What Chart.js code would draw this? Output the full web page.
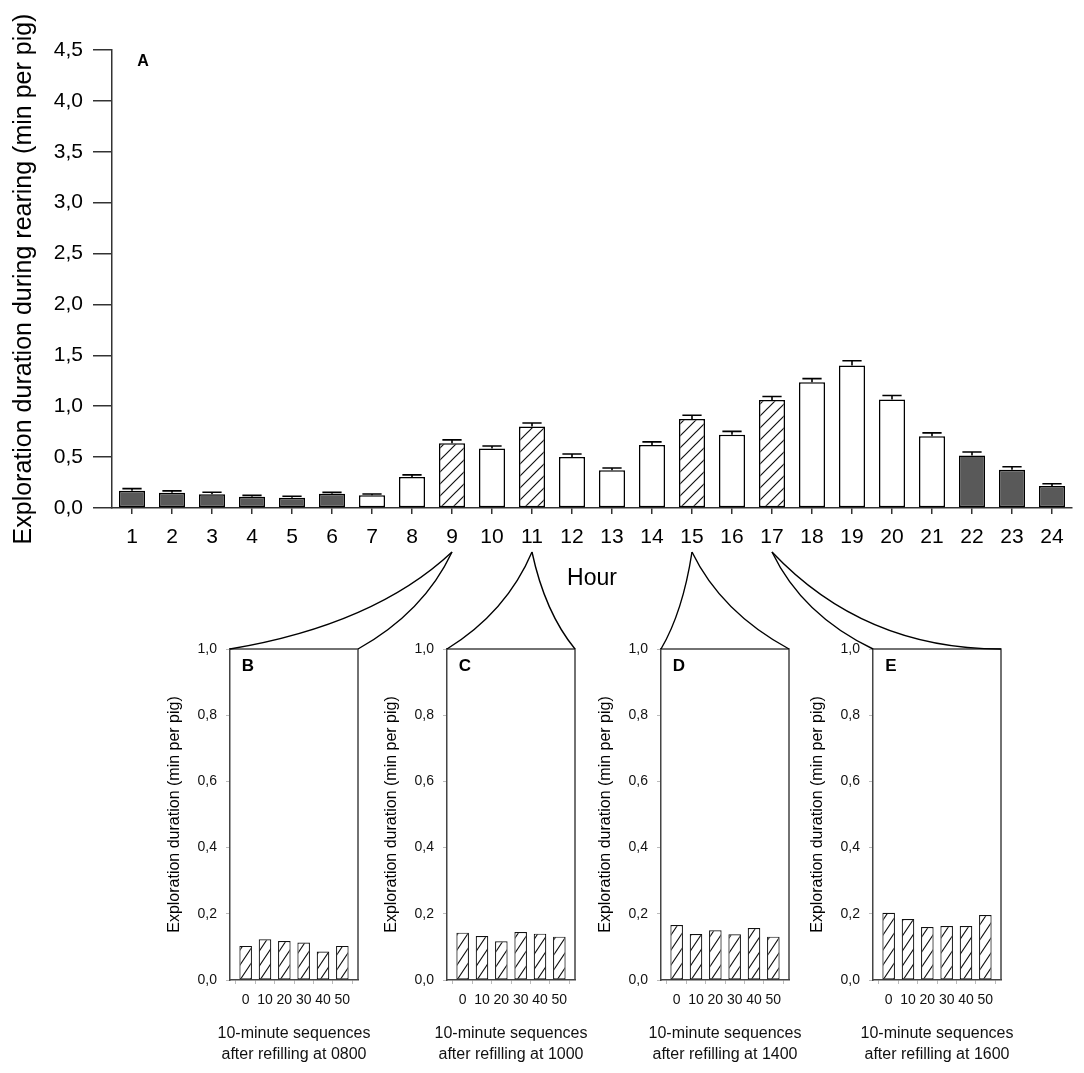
<!DOCTYPE html>
<html>
<head>
<meta charset="utf-8">
<script src="https://cdn.jsdelivr.net/npm/chart.js@4.4.1/dist/chart.umd.min.js"></script>
<style>
    body { margin: 0; background: #fff; }
    #page { position: relative; width: 1084px; height: 1073px; overflow: hidden; }
    #page canvas { position: absolute; }
    #links { pointer-events: none; }
</style>
</head>
<body>
<div id="page">
    <canvas id="mainChart" width="1084" height="600" style="left:0;top:0"></canvas>
    <canvas id="panelB" width="220" height="450" style="left:150px;top:620px"></canvas>
    <canvas id="panelC" width="220" height="450" style="left:367px;top:620px"></canvas>
    <canvas id="panelD" width="220" height="450" style="left:581px;top:620px"></canvas>
    <canvas id="panelE" width="220" height="450" style="left:793px;top:620px"></canvas>
    <canvas id="links" width="1084" height="1073" style="left:0;top:0"></canvas>
</div>
<script>
// Hourly data (panel A)
const hours = ['1','2','3','4','5','6','7','8','9','10','11','12','13','14','15','16','17','18','19','20','21','22','23','24'];
const hourMeans = [0.17, 0.15, 0.135, 0.11, 0.10, 0.14, 0.125, 0.305, 0.635, 0.585, 0.80, 0.50,
                   0.37, 0.62, 0.875, 0.72, 1.06, 1.235, 1.40, 1.065, 0.705, 0.515, 0.375, 0.215];
const hourErrors = [0.02, 0.018, 0.02, 0.014, 0.015, 0.014, 0.012, 0.02, 0.034, 0.024, 0.035, 0.03,
                    0.023, 0.03, 0.036, 0.033, 0.036, 0.036, 0.047, 0.04, 0.033, 0.035, 0.03, 0.023];
// 'night' = dark, 'day' = white, 'refill' = hatched
const hourShade = ['night','night','night','night','night','night','day','day','refill','day','refill','day',
                   'day','day','refill','day','refill','day','day','day','day','night','night','night'];

// 10-minute sequences after refilling (panels B-E)
const sequenceLabels = ['0', '10', '20', '30', '40', '50'];
const refillB = [0.103, 0.123, 0.118, 0.113, 0.086, 0.103];
const refillC = [0.143, 0.133, 0.117, 0.145, 0.140, 0.131];
const refillD = [0.166, 0.139, 0.150, 0.138, 0.157, 0.131];
const refillE = [0.203, 0.184, 0.160, 0.163, 0.163, 0.196];
const refillTimes = ['0800', '1000', '1400', '1600'];
const zoomHours = [9, 11, 15, 17];

const FONT = '"Liberation Sans", Arial, sans-serif';
Chart.defaults.font.family = FONT;
Chart.defaults.color = '#000';
Chart.defaults.animation = false;

// Diagonal hatch fill
function makeHatch(w, h, lw) {
    const c = document.createElement('canvas');
    c.width = w;
    c.height = h;
    const g = c.getContext('2d');
    g.fillStyle = '#fff';
    g.fillRect(0, 0, w, h);
    g.strokeStyle = '#111';
    g.lineWidth = lw;
    g.beginPath();
    for (let k = -1; k <= 1; k++) {
        g.moveTo(k * w - w * 0.5, h * 1.5);
        g.lineTo(k * w + w * 1.5, -h * 0.5);
    }
    g.stroke();
    return g.createPattern(c, 'repeat');
}

function commaFmt(v) {
    return Number(v).toFixed(1).replace('.', ',');
}

// Error bars (upward only)
const errorBars = {
    id: 'errorBars',
    afterDatasetsDraw(chart) {
        const { ctx, scales: { y } } = chart;
        const meta = chart.getDatasetMeta(0);
        ctx.save();
        ctx.strokeStyle = '#000';
        ctx.lineWidth = 1.6;
        meta.data.forEach((bar, i) => {
            const top = y.getPixelForValue(hourMeans[i] + hourErrors[i]);
            const half = bar.width * 0.37;
            ctx.beginPath();
            ctx.moveTo(bar.x, bar.y);
            ctx.lineTo(bar.x, top);
            ctx.moveTo(bar.x - half, top);
            ctx.lineTo(bar.x + half, top);
            ctx.stroke();
        });
        ctx.restore();
    }
};

// Panel letter (A, B, C...)
const panelLetter = {
    id: 'panelLetter',
    afterDraw(chart, args, opts) {
        if (!opts.text) return;
        const { ctx, chartArea } = chart;
        ctx.save();
        ctx.font = 'bold ' + opts.size + 'px ' + FONT;
        ctx.fillStyle = '#000';
        ctx.textAlign = 'center';
        ctx.textBaseline = 'middle';
        ctx.fillText(opts.text, chartArea.left + opts.dx, chartArea.top + opts.dy);
        ctx.restore();
    }
};

// Top and right frame lines plus the two-line caption of the small panels
const panelFrame = {
    id: 'panelFrame',
    afterDraw(chart, args, opts) {
        if (!opts.caption) return;
        const { ctx, chartArea: a } = chart;
        ctx.save();
        ctx.strokeStyle = '#444';
        ctx.lineWidth = 1.5;
        ctx.beginPath();
        ctx.moveTo(a.left, a.top);
        ctx.lineTo(a.right, a.top);
        ctx.lineTo(a.right, a.bottom);
        ctx.stroke();

        ctx.font = '16px ' + FONT;
        ctx.fillStyle = '#111';
        ctx.textAlign = 'center';
        ctx.textBaseline = 'middle';
        const cx = (a.left + a.right) / 2;
        opts.caption.forEach((line, i) => {
            ctx.fillText(line, cx, a.bottom + 54 + i * 21);
        });
        ctx.restore();
    }
};

const mainHatch = makeHatch(12, 12, 1.2);
const shadeColors = { night: '#595959', day: '#ffffff', refill: mainHatch };

const mainChart = new Chart(document.getElementById('mainChart'), {
    type: 'bar',
    data: {
        labels: hours,
        datasets: [{
            data: hourMeans,
            backgroundColor: hourShade.map(s => shadeColors[s]),
            borderColor: '#000',
            borderWidth: 1.5,
            borderSkipped: false,
            categoryPercentage: 1,
            barPercentage: 0.65
        }]
    },
    options: {
        responsive: false,
        layout: { padding: { top: 50, right: 12, left: 0, bottom: 0 } },
        plugins: {
            legend: { display: false },
            tooltip: { enabled: false },
            panelLetter: { text: 'A', size: 16, dx: 31, dy: 12 }
        },
        scales: {
            x: {
                grid: { offset: false, drawOnChartArea: false, tickLength: 6, color: '#333', lineWidth: 1.5 },
                border: { color: '#333', width: 1.5 },
                ticks: { font: { size: 21 }, padding: 11, maxRotation: 0, autoSkip: false },
                title: { display: true, text: 'Hour', font: { size: 23 }, padding: { top: 0, bottom: 8 } },
                afterFit(scale) { scale.height = 92; }
            },
            y: {
                min: 0,
                max: 4.5,
                grid: { drawOnChartArea: false, tickLength: 19, color: '#333', lineWidth: 1.5 },
                border: { color: '#333', width: 1.5 },
                ticks: { stepSize: 0.5, font: { size: 21 }, padding: 10, callback: v => commaFmt(v) },
                title: {
                    display: true,
                    text: 'Exploration duration during rearing (min per pig)',
                    font: { size: 25 },
                    padding: { top: 9, bottom: 0 }
                },
                afterFit(scale) { scale.width = 112; }
            }
        }
    },
    plugins: [errorBars, panelLetter]
});

const panelHatch = makeHatch(10, 15, 1.1);

function makePanel(id, letter, values, time) {
    return new Chart(document.getElementById(id), {
        type: 'bar',
        data: {
            datasets: [{
                data: values.map((v, i) => ({ x: i, y: v })),
                backgroundColor: panelHatch,
                borderColor: '#111',
                borderWidth: 1.2,
                borderSkipped: false,
                categoryPercentage: 1,
                barPercentage: 0.65
            }]
        },
        options: {
            responsive: false,
            layout: { padding: { top: 29, right: 12, left: 0, bottom: 0 } },
            plugins: {
                legend: { display: false },
                tooltip: { enabled: false },
                panelLetter: { text: letter, size: 17, dx: 18, dy: 17 },
                panelFrame: { caption: ['10-minute sequences', 'after refilling at ' + time] }
            },
            scales: {
                x: {
                    type: 'linear',
                    offset: false,
                    min: -0.81,
                    max: 5.81,
                    afterBuildTicks(scale) {
                        scale.ticks = sequenceLabels.map((_, i) => ({ value: i }));
                    },
                    grid: { drawOnChartArea: false, tickLength: 4, color: '#bbb', lineWidth: 1 },
                    border: { color: '#444', width: 1.5 },
                    ticks: { font: { size: 14 }, padding: 8, maxRotation: 0, autoSkip: false, color: '#111',
                             callback: v => sequenceLabels[v] },
                    afterFit(scale) { scale.height = 90; }
                },
                y: {
                    min: 0,
                    max: 1,
                    grid: { drawOnChartArea: false, tickLength: 4, color: '#bbb', lineWidth: 1 },
                    border: { color: '#444', width: 1.5 },
                    ticks: { stepSize: 0.2, font: { size: 14 }, padding: 9, color: '#111',
                             callback: v => commaFmt(v) },
                    title: {
                        display: true,
                        text: 'Exploration duration (min per pig)',
                        font: { size: 16 },
                        padding: { top: 15, bottom: 0 }
                    },
                    afterFit(scale) { scale.width = 80; }
                }
            }
        },
        plugins: [panelLetter, panelFrame]
    });
}

const panels = [
    makePanel('panelB', 'B', refillB, refillTimes[0]),
    makePanel('panelC', 'C', refillC, refillTimes[1]),
    makePanel('panelD', 'D', refillD, refillTimes[2]),
    makePanel('panelE', 'E', refillE, refillTimes[3])
];

// Connector curves from hour labels down to the zoomed panels
// [fx, fy] place the quadratic control point between the apex and the panel corner
const curveShape = [
    [[0.35, 0.75], [0.3, 0.62]],
    [[0.3, 0.62], [0.3, 0.62]],
    [[0.3, 0.62], [0.3, 0.62]],
    [[0.3, 0.65], [0.4, 1.0]]
];

function drawLinks() {
    const page = document.getElementById('page').getBoundingClientRect();
    const ctx = document.getElementById('links').getContext('2d');
    const mainBox = mainChart.canvas.getBoundingClientRect();
    const xScale = mainChart.scales.x;
    const apexY = mainBox.top - page.top + mainChart.chartArea.bottom + 44;

    ctx.strokeStyle = '#000';
    ctx.lineWidth = 1.4;
    panels.forEach((panel, p) => {
        const box = panel.canvas.getBoundingClientRect();
        const area = panel.chartArea;
        const ax = mainBox.left - page.left + xScale.getPixelForValue(zoomHours[p] - 1);
        const corners = [
            [box.left - page.left + area.left, box.top - page.top + area.top],
            [box.left - page.left + area.right, box.top - page.top + area.top]
        ];
        corners.forEach((c, side) => {
            const [fx, fy] = curveShape[p][side];
            const dx = c[0] - ax;
            const dy = c[1] - apexY;
            ctx.beginPath();
            ctx.moveTo(ax, apexY);
            ctx.quadraticCurveTo(ax + fx * dx, apexY + fy * dy, c[0], c[1]);
            ctx.stroke();
        });
    });
}

drawLinks();
</script>
</body>
</html>
